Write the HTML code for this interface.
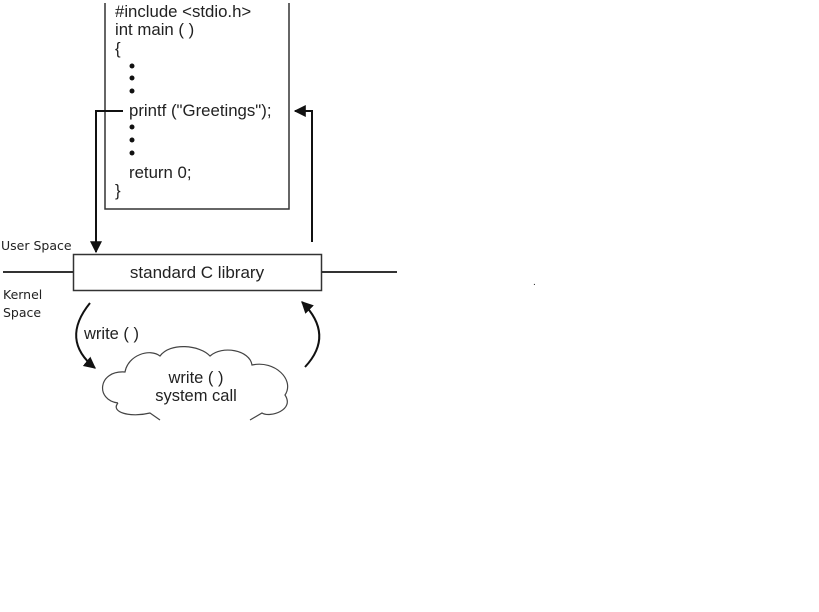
<!DOCTYPE html>
<html><head><style>
body{margin:0;background:#fff;width:819px;height:612px;overflow:hidden}
svg{display:block}
text{font-family:"Liberation Sans",sans-serif;fill:#222}
</style></head><body>
<svg width="819" height="612" xmlns="http://www.w3.org/2000/svg">
<defs>
<marker id="ah" viewBox="0 0 10 10" refX="9" refY="5" markerWidth="6" markerHeight="6" orient="auto"><path d="M0,0L10,5L0,10z" fill="#111"/></marker>
</defs>
<polyline points="105,3 105,209 289,209 289,3" fill="none" stroke="#333" stroke-width="1.5"/>
<g font-size="16.8">
<text x="115" y="17">#include &lt;stdio.h&gt;</text>
<text x="115" y="35">int main ( )</text>
<text x="115" y="54">{</text>
<text x="129" y="116">printf ("Greetings");</text>
<text x="129" y="178">return 0;</text>
<text x="115" y="196">}</text>
</g>
<g fill="#111">
<circle cx="132" cy="66" r="2.5"/><circle cx="132" cy="78" r="2.5"/><circle cx="132" cy="91" r="2.5"/>
<circle cx="132" cy="127" r="2.5"/><circle cx="132" cy="140" r="2.5"/><circle cx="132" cy="153" r="2.5"/>
</g>
<polyline points="123,111 96,111 96,252" fill="none" stroke="#111" stroke-width="2" marker-end="url(#ah)"/>
<polyline points="312,242 312,111 295,111" fill="none" stroke="#111" stroke-width="2" marker-end="url(#ah)"/>
<line x1="3" y1="272" x2="73" y2="272" stroke="#333" stroke-width="2"/>
<line x1="321" y1="272" x2="397" y2="272" stroke="#333" stroke-width="2"/>
<rect x="73.5" y="254.5" width="248" height="36" fill="#fff" stroke="#333" stroke-width="1.5"/>
<text x="197" y="278" font-size="17" text-anchor="middle">standard C library</text>
<text x="1" y="250" font-size="12.5" style="font-family:'DejaVu Sans',sans-serif">User Space</text>
<text x="3" y="299" font-size="12.5" style="font-family:'DejaVu Sans',sans-serif">Kernel</text>
<text x="3" y="317" font-size="12.5" style="font-family:'DejaVu Sans',sans-serif">Space</text>
<text x="533" y="285" font-size="10">.</text>
<path d="M90,303 Q60,340 95,368" fill="none" stroke="#111" stroke-width="2" marker-end="url(#ah)"/>
<path d="M305,367 Q335,335 302,302" fill="none" stroke="#111" stroke-width="2" marker-end="url(#ah)"/>
<text x="84" y="339" font-size="16.5">write ( )</text>
<path d="M118,403 C95,400 98,370 125,372 C128,355 150,348 160,356 C170,342 200,345 210,356 C222,345 250,350 252,365 C275,360 295,380 285,395 C295,410 270,418 262,413 L250,420 M160,420 L150,413 C130,418 110,412 118,403" fill="#fff" stroke="#444" stroke-width="1.2"/>
<text x="196" y="383" font-size="16.5" text-anchor="middle">write ( )</text>
<text x="196" y="401" font-size="16.5" text-anchor="middle">system call</text>
</svg>
</body></html>
